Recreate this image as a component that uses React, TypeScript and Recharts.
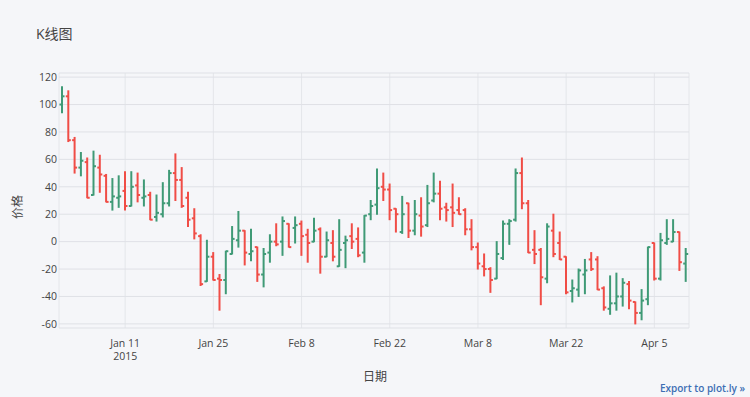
import { ComposedChart, Bar, XAxis, YAxis, CartesianGrid } from 'recharts';

// daily OHLC, Jan 1 2015 .. Apr 10 2015 (day index 0..99)
const openPrices = [
  100, 106, 74, 54, 58, 34, 54, 48, 29, 32,
  37, 26, 41, 32, 34, 18, 20, 28, 50, 45,
  32, 17, 4, -29, -11, -27, -28, -9, 1, 8,
  -9, -4, -24, -8, 0, 0, 13, 10, 13, 5,
  0, 9, -11, -1, -18, -1, 4, 2, -8, 20,
  27, 40, 38, 24, 7, 28, 8, 19, 12, 30,
  35, 25, 25, 23, 23, 9, -4, -18, -20, -27,
  -12, 13, 16, 50, 28, -6, -6, -27, 8, -1,
  -11, -36, -35, -24, -13, -13, -34, -49, -45, -40,
  -31, -44, -52, -42, -1, -27, -1, 0, 7, -16,
];
const highPrices = [
  113, 110, 76, 65, 61, 66, 63, 49, 46, 48,
  51, 51, 50, 45, 36, 34, 43, 52, 64, 54,
  36, 24, 5, 1, -8, -24, -7, 11, 22, 8,
  9, -4, -5, 5, 13, 18, 13, 18, 15, 9,
  17, 10, 7, 8, 16, 4, 13, 10, 19, 30,
  53, 50, 42, 24, 33, 28, 30, 32, 41, 50,
  44, 28, 42, 32, 24, 16, -1, -9, -19, 0,
  15, 16, 53, 61, 30, 8, -5, 13, 20, 7,
  -11, -28, -20, -13, -8, -11, -33, -25, -23, -27,
  -29, -44, -35, -4, -1, 6, 16, 16, 7, -5,
];
const lowPrices = [
  94, 73, 50, 48, 32, 34, 36, 29, 23, 25,
  23, 26, 29, 26, 16, 15, 18, 26, 30, 25,
  11, 2, -32, -29, -28, -50, -38, -9, -4, -17,
  -14, -29, -33, -15, -3, -10, -4, -1, -10, -15,
  0, -23, -11, -14, -18, -19, -5, -11, -15, 16,
  20, 30, 16, 7, 6, 3, 5, 4, 11, 29,
  16, 15, 11, 20, 5, -6, -20, -25, -37, -27,
  -13, -2, 15, 24, -8, -16, -46, -30, -11, -13,
  -38, -44, -40, -38, -21, -35, -50, -53, -50, -47,
  -49, -60, -57, -46, -28, -28, -2, 0, -21, -29,
];
const closePrices = [
  106, 74, 54, 59, 32, 55, 49, 29, 33, 33,
  26, 40, 34, 33, 16, 21, 28, 50, 45, 26,
  16, 6, -31, -11, -28, -28, -7, 2, 8, -8,
  -7, -24, -9, 0, -2, 15, -4, 12, 4, -1,
  8, -11, 1, -11, -6, 1, 0, -10, 19, 26,
  39, 38, 23, 20, 20, 8, 20, 11, 28, 35,
  24, 23, 21, 20, 9, -4, -16, -20, -28, -9,
  13, 15, 50, 28, -8, -9, -26, 11, -9, -13,
  -37, -34, -21, -21, -20, -35, -48, -45, -40, -30,
  -43, -52, -43, -4, -27, 1, 2, 7, -15, -9,
];

const tickDays = [10, 24, 38, 52, 66, 80, 94];
const tickLabels = ['Jan 11', 'Jan 25', 'Feb 8', 'Feb 22', 'Mar 8', 'Mar 22', 'Apr 5'];
const yTicks = [-60, -40, -20, 0, 20, 40, 60, 80, 100, 120];

const UP = '#3f9a76';
const DOWN = '#f04d46';
const FONT = '"Open Sans", "Noto Sans CJK SC", sans-serif';

const data = openPrices.map((o, i) => ({
  day: i,
  open: o,
  high: highPrices[i],
  low: lowPrices[i],
  close: closePrices[i],
  range: [lowPrices[i], highPrices[i]],
}));

function OhlcBar(props: any) {
  const { x, y, width, height, payload } = props;
  if (!payload) return null;
  const top = Math.min(y, y + height);
  const h = Math.abs(height);
  const { open, high, low, close } = payload;
  const span = high - low || 1;
  const toY = (v: number) => top + ((high - v) / span) * h;
  const cx = x + width / 2;
  const color = close >= open ? UP : DOWN;
  return (
    <g stroke={color} strokeWidth={2}>
      <line x1={cx} x2={cx} y1={top - 0.5} y2={top + h + 0.5} />
      <line x1={cx - 2.5} x2={cx} y1={toY(open)} y2={toY(open)} />
      <line x1={cx} x2={cx + 2.5} y1={toY(close)} y2={toY(close)} />
    </g>
  );
}

function DateTick(props: any) {
  const { x, y, payload } = props;
  const idx = tickDays.indexOf(payload.value);
  return (
    <g>
      <text x={x} y={y + 19} textAnchor="middle" fontSize={10.5} fill="#444" fontFamily={FONT}>
        {tickLabels[idx]}
      </text>
      {idx === 0 && (
        <text x={x} y={y + 32} textAnchor="middle" fontSize={10.5} fill="#444" fontFamily={FONT}>
          2015
        </text>
      )}
    </g>
  );
}

export default function App() {
  return (
    <div style={{ position: 'absolute', left: 0, top: 0, width: 750, height: 397, background: '#f5f6f9', fontFamily: FONT }}>
      <div style={{ position: 'absolute', left: 36, top: 23, fontSize: 14, color: '#444' }}>K线图</div>
      <div
        style={{
          position: 'absolute', left: 17, top: 207, fontSize: 12, color: '#444',
          transform: 'translate(-50%, -50%) rotate(-90deg)', whiteSpace: 'nowrap',
        }}
      >
        价格
      </div>
      <div style={{ position: 'absolute', left: 375, top: 376, fontSize: 12, color: '#444', transform: 'translate(-50%, -50%)' }}>
        日期
      </div>
      <div style={{ position: 'absolute', right: 5, top: 381, fontSize: 10, fontWeight: 600, color: '#3c6eb4' }}>
        Export to plot.ly »
      </div>
      <ComposedChart
        width={750}
        height={397}
        data={data}
        margin={{ top: 73, right: 61, bottom: 39, left: 0 }}
        style={{ position: 'absolute', left: 0, top: 0 }}
      >
        <CartesianGrid horizontal={false} stroke="#e4e6ea" />
        <CartesianGrid vertical={false} stroke="#dfe1e6" />
        <XAxis
          dataKey="day"
          type="number"
          domain={[-0.5, 99.5]}
          ticks={tickDays}
          tick={<DateTick />}
          axisLine={false}
          tickLine={false}
          tickSize={0}
          tickMargin={0}
          height={30}
          interval={0}
        />
        <YAxis
          type="number"
          domain={[-63, 123]}
          ticks={yTicks}
          axisLine={false}
          tickLine={false}
          tickSize={0}
          tickMargin={2}
          width={59}
          interval={0}
          tick={{ fontSize: 10.5, fill: '#444', fontFamily: FONT }}
        />
        <Bar dataKey="range" barSize={6} shape={<OhlcBar />} isAnimationActive={false} />
      </ComposedChart>
    </div>
  );
}
